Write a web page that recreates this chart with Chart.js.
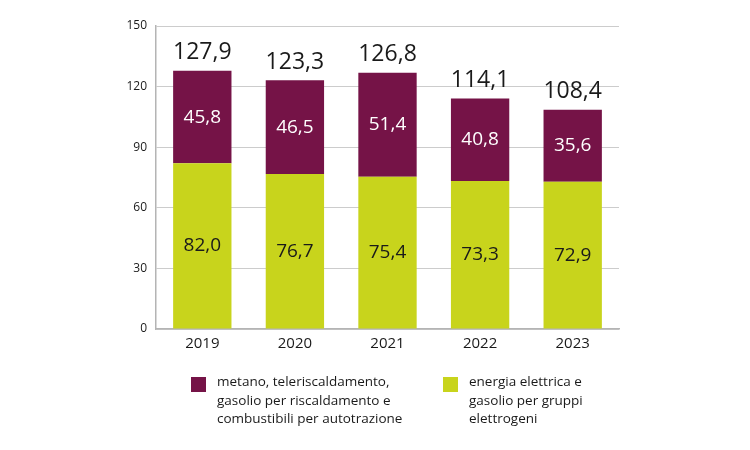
<!DOCTYPE html>
<html>
<head>
<meta charset="utf-8">
<script src="https://cdn.jsdelivr.net/npm/chart.js@4.4.1/dist/chart.umd.min.js"></script>
<style>
  html, body { margin: 0; padding: 0; background: #fff; }
  #wrap { width: 750px; height: 450px; }
</style>
</head>
<body>
<div id="wrap"><canvas id="myChart" width="750" height="450"></canvas></div>
<script>
// data
const years = ['2019', '2020', '2021', '2022', '2023'];
const elettrica = [82.0, 76.7, 75.4, 73.3, 72.9];
const metano = [45.8, 46.5, 51.4, 40.8, 35.6];
const totali = ['127,9', '123,3', '126,8', '114,1', '108,4'];
const yTicks = [0, 30, 60, 90, 120, 150];
const legendMetano = ['metano, teleriscaldamento,', 'gasolio per riscaldamento e', 'combustibili per autotrazione'];
const legendElettrica = ['energia elettrica e', 'gasolio per gruppi', 'elettrogeni'];

const GREEN = '#c8d41c';
const PURPLE = '#751347';

function fmt(v) {
  return v.toFixed(1).replace('.', ',');
}

// labels inside the bars and totals on top
const barLabels = {
  id: 'barLabels',
  afterDatasetsDraw(chart) {
    const ctx = chart.ctx;
    ctx.save();
    ctx.textAlign = 'center';
    ctx.textBaseline = 'middle';
    chart.data.datasets.forEach(function (ds, i) {
      const meta = chart.getDatasetMeta(i);
      meta.data.forEach(function (bar, j) {
        const mid = (bar.y + bar.base) / 2;
        ctx.font = '19px "Open Sans"';
        ctx.fillStyle = i === 0 ? '#1a1a1a' : '#ffffff';
        ctx.fillText(fmt(ds.data[j]), bar.x, mid);
      });
    });
    const top = chart.getDatasetMeta(1);
    top.data.forEach(function (bar, j) {
      ctx.font = '23px "Liberation Sans Narrow", "Open Sans"';
      ctx.fillStyle = '#1a1a1a';
      ctx.fillText(totali[j], bar.x, bar.y - 18);
    });
    ctx.restore();
  }
};

// legend under the chart, multi-line text
const bottomLegend = {
  id: 'bottomLegend',
  afterDraw(chart) {
    const ctx = chart.ctx;
    const items = [
      { x: 191, color: PURPLE, lines: legendMetano },
      { x: 443, color: GREEN, lines: legendElettrica }
    ];
    ctx.save();
    ctx.font = '13.5px "Open Sans"';
    ctx.textAlign = 'left';
    ctx.textBaseline = 'alphabetic';
    items.forEach(function (it) {
      ctx.fillStyle = it.color;
      ctx.fillRect(it.x, 377, 15, 15);
      ctx.fillStyle = '#1a1a1a';
      it.lines.forEach(function (l, k) {
        ctx.fillText(l, it.x + 26, 386 + k * 18.5);
      });
    });
    ctx.restore();
  }
};

var ctx = document.getElementById('myChart').getContext('2d');

var myChart = new Chart(ctx, {
  type: 'bar',
  data: {
    labels: years,
    datasets: [{
      label: legendElettrica.join(' '),
      data: elettrica,
      backgroundColor: GREEN,
      borderWidth: 0,
      categoryPercentage: 1,
      barPercentage: 0.63
    }, {
      label: legendMetano.join(' '),
      data: metano,
      backgroundColor: PURPLE,
      borderWidth: 0,
      categoryPercentage: 1,
      barPercentage: 0.63
    }]
  },
  options: {
    responsive: false,
    animation: false,
    layout: {
      padding: { left: 116, right: 131, top: 26, bottom: 91 }
    },
    plugins: {
      legend: { display: false },
      tooltip: { enabled: false }
    },
    scales: {
      x: {
        stacked: true,
        grid: { display: false, drawTicks: false },
        border: { color: '#b4b4b4', width: 1.5 },
        ticks: {
          color: '#1a1a1a',
          font: { family: 'Open Sans', size: 15 },
          padding: 6
        },
        afterFit: function (s) { s.height = 30; }
      },
      y: {
        stacked: true,
        min: 0,
        max: 150,
        afterBuildTicks: function (s) {
          s.ticks = yTicks.map(function (v) { return { value: v }; });
        },
        grid: { color: '#cccccc', lineWidth: 1, drawTicks: false },
        border: { color: '#b4b4b4', width: 1.5 },
        ticks: {
          color: '#1a1a1a',
          font: { family: 'Open Sans', size: 12 },
          padding: 9
        },
        afterFit: function (s) { s.width = 40; }
      }
    }
  },
  plugins: [barLabels, bottomLegend]
});
</script>
</body>
</html>
